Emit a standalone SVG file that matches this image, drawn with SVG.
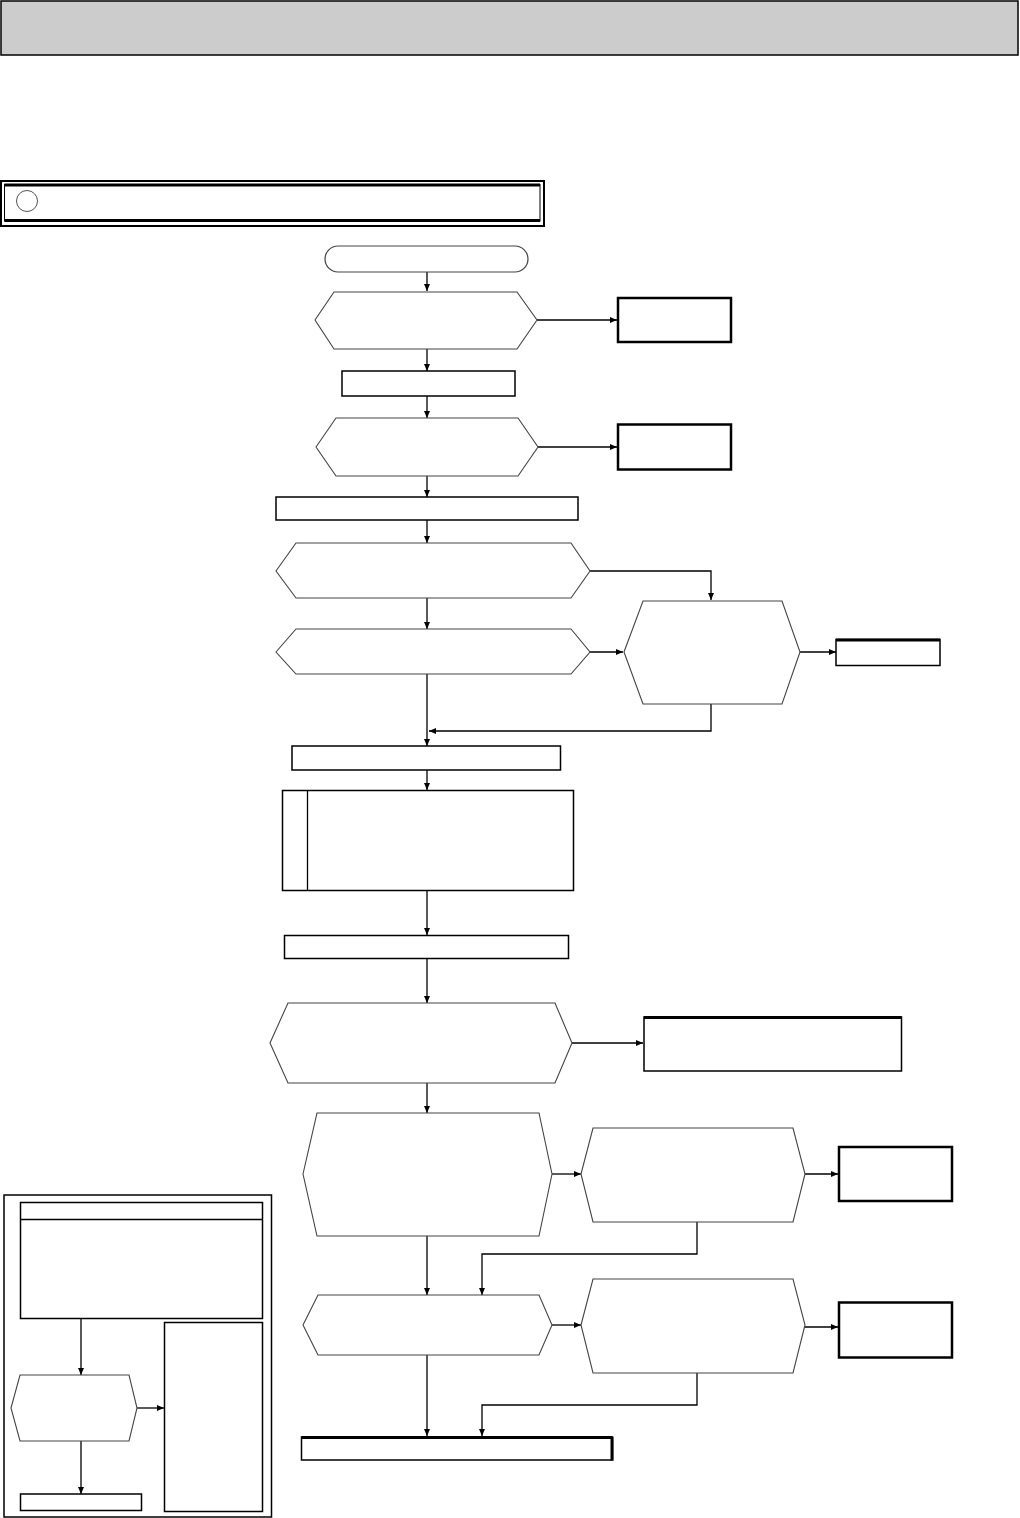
<svg xmlns="http://www.w3.org/2000/svg" width="1020" height="1518" viewBox="0 0 1020 1518">
<style>
.bg{fill:#fff}
.hdr{fill:#cccccc;stroke:#000;stroke-width:1.5}
.box{fill:#fff;stroke:#000;stroke-width:1.5}
.tbox{fill:#fff;stroke:#000;stroke-width:2.5}
.hex{fill:#fff;stroke:#444;stroke-width:1.1}
.term{fill:#fff;stroke:#444;stroke-width:1.2}
.ln{fill:none;stroke:#000;stroke-width:1.3}
.thick{fill:none;stroke:#000;stroke-width:3}
</style>
<defs>
<marker id="ah" markerUnits="userSpaceOnUse" markerWidth="8" markerHeight="8" refX="7" refY="3" orient="auto">
<path d="M0,0 L7,3 L0,6 z" fill="#000"/>
</marker>
</defs>
<rect class="bg" x="0" y="0" width="1020" height="1518"/>
<g id="header"><rect class="hdr" x="1" y="1" width="1017" height="54"/></g>
<g id="title">
<rect fill="#fff" stroke="#000" stroke-width="2" x="1" y="181" width="543" height="45"/>
<rect fill="#fff" stroke="#000" stroke-width="1" x="4.5" y="184.5" width="535.5" height="36.5"/>
<line class="thick" x1="4.5" y1="185" x2="540" y2="185"/>
<line class="thick" x1="4.5" y1="220.5" x2="540" y2="220.5"/>
<circle cx="27" cy="201" r="10.5" fill="#fff" stroke="#555" stroke-width="1"/>
</g>
<g id="connectors" marker-end="url(#ah)">
<path class="ln" d="M427,272 V291" marker-end="url(#ah)"/>
<path class="ln" d="M537,320 H617" marker-end="url(#ah)"/>
<path class="ln" d="M427,349 V371" marker-end="url(#ah)"/>
<path class="ln" d="M427,396 V418" marker-end="url(#ah)"/>
<path class="ln" d="M538,447 H617" marker-end="url(#ah)"/>
<path class="ln" d="M427,476 V497" marker-end="url(#ah)"/>
<path class="ln" d="M427,520 V543" marker-end="url(#ah)"/>
<path class="ln" d="M590,571 H711 V600" marker-end="url(#ah)"/>
<path class="ln" d="M427,598 V629" marker-end="url(#ah)"/>
<path class="ln" d="M590,652 H623" marker-end="url(#ah)"/>
<path class="ln" d="M800,652 H836" marker-end="url(#ah)"/>
<path class="ln" d="M711,704 V731 H429" marker-end="url(#ah)"/>
<path class="ln" d="M427,674 V746" marker-end="url(#ah)"/>
<path class="ln" d="M427,770 V790" marker-end="url(#ah)"/>
<path class="ln" d="M427,890 V935" marker-end="url(#ah)"/>
<path class="ln" d="M427,958 V1003" marker-end="url(#ah)"/>
<path class="ln" d="M572,1043 H643" marker-end="url(#ah)"/>
<path class="ln" d="M427,1083 V1113" marker-end="url(#ah)"/>
<path class="ln" d="M552,1174 H581" marker-end="url(#ah)"/>
<path class="ln" d="M805,1174 H838" marker-end="url(#ah)"/>
<path class="ln" d="M697,1222 V1254 H482 V1295" marker-end="url(#ah)"/>
<path class="ln" d="M427,1236 V1295" marker-end="url(#ah)"/>
<path class="ln" d="M552,1325 H581" marker-end="url(#ah)"/>
<path class="ln" d="M805,1327 H838" marker-end="url(#ah)"/>
<path class="ln" d="M697,1373 V1405 H482 V1436" marker-end="url(#ah)"/>
<path class="ln" d="M427,1355 V1436" marker-end="url(#ah)"/>
<path class="ln" d="M81,1318 V1375" marker-end="url(#ah)"/>
<path class="ln" d="M137,1408 H164" marker-end="url(#ah)"/>
<path class="ln" d="M81,1441 V1494" marker-end="url(#ah)"/>
</g>
<g id="start"><rect class="term" x="325" y="246" width="203" height="26" rx="13"/></g>
<g id="d1"><polygon class="hex" points="315,320 334,292 517,292 537,320 517,349 334,349"/></g>
<g id="r1"><rect class="tbox" x="618" y="298" width="113" height="44"/></g>
<g id="p1"><rect class="box" x="342" y="371" width="173" height="25"/></g>
<g id="d2"><polygon class="hex" points="316,447 336,418 518,418 538,447 518,476 336,476"/></g>
<g id="r2"><rect class="tbox" x="618" y="424.5" width="113" height="45"/></g>
<g id="p2"><rect class="box" x="276" y="497" width="302" height="23"/></g>
<g id="d3"><polygon class="hex" points="276,571 296,543 571,543 590,571 571,598 296,598"/></g>
<g id="d4"><polygon class="hex" points="276,652 296,629 571,629 590,652 571,674 296,674"/></g>
<g id="d5"><polygon class="hex" points="624,652 643,601 782,601 800,652 782,704 643,704"/></g>
<g id="r3"><rect class="box" x="836" y="639.5" width="104" height="26"/><line class="thick" x1="836" y1="640" x2="940" y2="640"/></g>
<g id="p3"><rect class="box" x="292" y="746" width="268.5" height="24"/></g>
<g id="p4"><rect class="box" x="282.5" y="790.5" width="291" height="100"/><line class="ln" x1="307.5" y1="790.5" x2="307.5" y2="890.5"/></g>
<g id="p5"><rect class="box" x="284.5" y="935.5" width="284" height="23"/></g>
<g id="d6"><polygon class="hex" points="270,1043 288,1003 555,1003 572,1043 555,1083 288,1083"/></g>
<g id="r4"><rect class="box" x="644" y="1017" width="257.5" height="54"/><line class="thick" x1="644" y1="1017.5" x2="901.5" y2="1017.5"/></g>
<g id="d7"><polygon class="hex" points="303,1174 317,1113 539,1113 552,1174 539,1236 317,1236"/></g>
<g id="d8"><polygon class="hex" points="581,1174 593,1128 793,1128 805,1174 793,1222 593,1222"/></g>
<g id="r5"><rect class="tbox" x="839" y="1147" width="113" height="54"/></g>
<g id="d9"><polygon class="hex" points="303,1325 318,1295 539,1295 552,1325 539,1355 318,1355"/></g>
<g id="d10"><polygon class="hex" points="581,1325 593,1279 793,1279 805,1325 793,1373 593,1373"/></g>
<g id="r6"><rect class="tbox" x="839" y="1302.5" width="113" height="55"/></g>
<g id="end"><rect class="box" x="301.5" y="1437" width="311" height="23"/><line class="thick" x1="301.5" y1="1437.5" x2="612.5" y2="1437.5"/><line class="thick" x1="612" y1="1437" x2="612" y2="1460.5"/></g>
<g id="legend">
<rect fill="none" stroke="#000" stroke-width="1.5" x="4" y="1195" width="267.5" height="322"/>
<g id="lg-box"><rect class="box" x="20.5" y="1202.5" width="242" height="116"/><line class="ln" x1="20.5" y1="1219.5" x2="262.5" y2="1219.5"/></g>
<g id="lg-hex"><polygon class="hex" points="11,1408 20,1375 129,1375 137,1408 129,1441 20,1441"/></g>
<g id="lg-side"><rect class="box" x="164.5" y="1322.5" width="98" height="189"/></g>
<g id="lg-end"><rect class="box" x="20.5" y="1494" width="121" height="16.5"/></g>
</g>
</svg>
